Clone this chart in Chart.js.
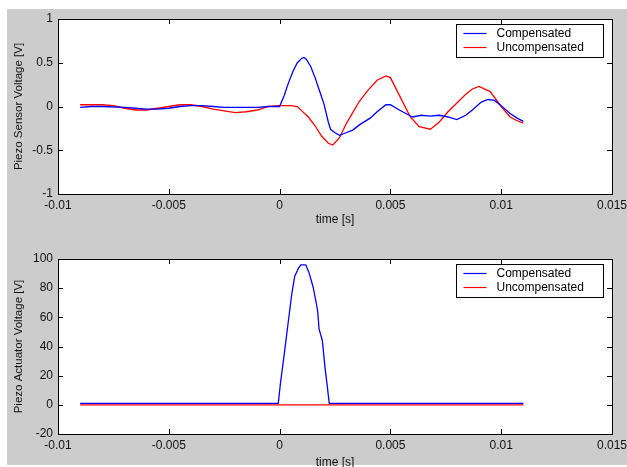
<!DOCTYPE html>
<html>
<head>
<meta charset="utf-8">
<script src="https://cdn.jsdelivr.net/npm/chart.js@4"></script>
<style>
body { margin: 0; background: #fff; overflow: hidden; }
#bg { position: absolute; left: 7px; top: 9px; width: 620px; height: 456px; background: #cccccc; }
.wrap { position: absolute; left: 0; width: 627px; }
</style>
</head>
<body>
<div id="bg"></div>
<div class="wrap" style="top:0px;height:230px"><canvas id="c1"></canvas></div>
<div class="wrap" style="top:237px;height:236px"><canvas id="c2"></canvas></div>
<script>
// time axis ticks (shared)
const xTicks = [-0.01, -0.005, 0, 0.005, 0.01, 0.015];
const xTickLabels = ['-0.01', '-0.005', '0', '0.005', '0.01', '0.015'];

// top plot : piezo sensor voltage
const sensorTicks = [-1, -0.5, 0, 0.5, 1];
const sensorTickLabels = ['-1', '-0.5', '0', '0.5', '1'];

const tSensorComp = [-0.009, -0.0085, -0.008, -0.007, -0.0065, -0.006, -0.0055, -0.005, -0.0045, -0.004,
  -0.0035, -0.003, -0.0025, -0.002, -0.0015, -0.001, -0.0005, 0, 0.0002, 0.0004,
  0.0006, 0.0008, 0.001, 0.0011, 0.0012, 0.0014, 0.0016, 0.0018, 0.002, 0.0022,
  0.0023, 0.0025, 0.0027, 0.003, 0.0033, 0.0036, 0.0041, 0.0044, 0.0048, 0.005,
  0.0054, 0.0057, 0.006, 0.0064, 0.0068, 0.0072, 0.0076, 0.008, 0.0084, 0.0087,
  0.0091, 0.0094, 0.0097, 0.01, 0.0104, 0.0107, 0.011];
const vSensorComp = [-0.01, 0.0, 0.0, -0.01, -0.02, -0.03, -0.03, -0.02, 0.0, 0.01,
  0.01, 0.0, -0.01, -0.01, -0.01, -0.01, 0.0, 0.0, 0.12, 0.27,
  0.40, 0.50, 0.55, 0.56, 0.54, 0.46, 0.33, 0.18, 0.03, -0.18,
  -0.26, -0.30, -0.33, -0.30, -0.27, -0.21, -0.13, -0.06, 0.02, 0.02,
  -0.04, -0.08, -0.12, -0.10, -0.11, -0.10, -0.12, -0.15, -0.10, -0.04,
  0.05, 0.08, 0.07, 0.01, -0.08, -0.13, -0.17];

const tSensorUncomp = [-0.009, -0.008, -0.0075, -0.007, -0.0065, -0.006, -0.0055, -0.005, -0.0045, -0.004,
  -0.0035, -0.003, -0.0025, -0.002, -0.0015, -0.001, -0.0005, 0, 0.0005, 0.0008,
  0.001, 0.0013, 0.0016, 0.0019, 0.0022, 0.0024, 0.0027, 0.003, 0.0033, 0.0036,
  0.004, 0.0044, 0.0048, 0.005, 0.0054, 0.0059, 0.0063, 0.0068, 0.0072, 0.0076,
  0.008, 0.0084, 0.0087, 0.009, 0.0095, 0.01, 0.0104, 0.0107, 0.011];
const vSensorUncomp = [0.02, 0.02, 0.01, -0.02, -0.04, -0.04, -0.02, 0.0, 0.02, 0.02,
  0.0, -0.03, -0.05, -0.07, -0.06, -0.04, 0.0, 0.01, 0.01, 0.0,
  -0.05, -0.12, -0.22, -0.34, -0.42, -0.44, -0.36, -0.2, -0.07, 0.06,
  0.19, 0.30, 0.35, 0.33, 0.13, -0.12, -0.23, -0.26, -0.18, -0.06,
  0.04, 0.14, 0.20, 0.23, 0.17, 0.0, -0.12, -0.16, -0.19];

// bottom plot : piezo actuator voltage
const actuatorTicks = [-20, 0, 20, 40, 60, 80, 100];
const actuatorTickLabels = ['-20', '0', '20', '40', '60', '80', '100'];

const tActComp = [-0.009, -0.00006, 0.00004, 0.00022, 0.0004, 0.00055, 0.00068, 0.00086, 0.00096, 0.00118,
  0.00132, 0.00151, 0.00165, 0.00172, 0.00178, 0.00193, 0.00206, 0.00215, 0.00224, 0.011];
const vActComp = [1, 1, 15, 36, 58, 76, 88, 94, 96, 96,
  91, 81, 70, 64, 52, 44, 24, 13, 1, 1];

const tActUncomp = [-0.009, 0.011];
const vActUncomp = [0, 0];

const seriesNames = ['Compensated', 'Uncompensated'];
const seriesColors = ['#0000ff', '#ff0000'];

const FONT = '"Liberation Sans", Arial, sans-serif';

function pts(ts, vs) { return ts.map((t, i) => ({ x: t, y: vs[i] })); }

// MATLAB style frame: white plot area, box, inward ticks, legend box
const matlabFrame = {
  id: 'matlabFrame',
  beforeDatasetsDraw(chart) {
    const a = chart.chartArea, ctx = chart.ctx;
    ctx.save();
    ctx.fillStyle = '#fff';
    ctx.fillRect(a.left, a.top, a.right - a.left, a.bottom - a.top);
    ctx.restore();
  },
  afterDraw(chart) {
    const a = chart.chartArea, ctx = chart.ctx;
    const xs = chart.scales.x, ys = chart.scales.y;
    ctx.save();
    ctx.strokeStyle = '#000';
    ctx.lineWidth = 1;
    ctx.strokeRect(Math.round(a.left) + 0.5, Math.round(a.top) + 0.5,
      Math.round(a.right - a.left), Math.round(a.bottom - a.top));
    ctx.beginPath();
    xs.ticks.forEach(t => {
      const px = Math.round(xs.getPixelForValue(t.value)) + 0.5;
      ctx.moveTo(px, a.bottom); ctx.lineTo(px, a.bottom - 5);
      ctx.moveTo(px, a.top); ctx.lineTo(px, a.top + 5);
    });
    ys.ticks.forEach(t => {
      const py = Math.round(ys.getPixelForValue(t.value)) + 0.5;
      ctx.moveTo(a.left, py); ctx.lineTo(a.left + 5, py);
      ctx.moveTo(a.right, py); ctx.lineTo(a.right - 5, py);
    });
    ctx.stroke();

    // legend
    const bx = Math.round(a.right) - 155.5, by = Math.round(a.top) + 5.5, bw = 147, bh = 33;
    ctx.fillStyle = '#fff';
    ctx.fillRect(bx, by, bw, bh);
    ctx.strokeStyle = '#000';
    ctx.strokeRect(bx, by, bw, bh);
    ctx.font = '12px ' + FONT;
    ctx.textBaseline = 'middle';
    seriesNames.forEach((name, i) => {
      const ly = by + 9 + i * 14;
      ctx.strokeStyle = seriesColors[i];
      ctx.lineWidth = 1.2;
      ctx.beginPath();
      ctx.moveTo(bx + 7, ly); ctx.lineTo(bx + 30, ly);
      ctx.stroke();
      ctx.fillStyle = '#000';
      ctx.fillText(name, bx + 40, ly);
    });
    ctx.restore();
  }
};

function makeChart(id, yTicks, yLabels, yTitle, series, padTop, xHeight) {
  return new Chart(document.getElementById(id), {
    type: 'line',
    data: {
      datasets: series.map((s, i) => ({
        label: seriesNames[i],
        data: s,
        borderColor: seriesColors[i],
        borderWidth: 1.3,
        pointRadius: 0,
        tension: 0,
        fill: false
      }))
    },
    options: {
      responsive: true,
      maintainAspectRatio: false,
      animation: false,
      layout: { padding: { top: padTop, right: 15, left: 0, bottom: 0 } },
      plugins: { legend: { display: false }, tooltip: { enabled: false } },
      scales: {
        x: {
          type: 'linear',
          min: xTicks[0], max: xTicks[xTicks.length - 1],
          afterBuildTicks: s => { s.ticks = xTicks.map(v => ({ value: v })); },
          afterFit: s => { s.height = xHeight; s.paddingLeft = 0; s.paddingRight = 0; },
          ticks: {
            callback: (v, i) => xTickLabels[i],
            font: { family: FONT, size: 12 }, color: '#111', padding: 4, maxRotation: 0
          },
          grid: { display: false, drawTicks: false },
          border: { display: false },
          title: { display: true, text: 'time [s]', font: { family: FONT, size: 12 }, color: '#111', padding: { top: 0, bottom: 3 } }
        },
        y: {
          type: 'linear',
          min: yTicks[0], max: yTicks[yTicks.length - 1],
          afterBuildTicks: s => { s.ticks = yTicks.map(v => ({ value: v })); },
          afterFit: s => { s.width = 58; s.paddingTop = 0; s.paddingBottom = 0; },
          ticks: {
            callback: (v, i) => yLabels[i],
            font: { family: FONT, size: 12 }, color: '#111', padding: 5
          },
          grid: { display: false, drawTicks: false },
          border: { display: false },
          title: { display: true, text: yTitle, font: { family: FONT, size: 11.5 }, color: '#111', padding: { top: 12, bottom: 0 } }
        }
      }
    },
    plugins: [matlabFrame]
  });
}

makeChart('c1', sensorTicks, sensorTickLabels, 'Piezo Sensor Voltage [V]',
  [pts(tSensorComp, vSensorComp), pts(tSensorUncomp, vSensorUncomp)], 19, 36);
makeChart('c2', actuatorTicks, actuatorTickLabels, 'Piezo Actuator Voltage [V]',
  [pts(tActComp, vActComp), pts(tActUncomp, vActUncomp)], 22, 39);
</script>
</body>
</html>
